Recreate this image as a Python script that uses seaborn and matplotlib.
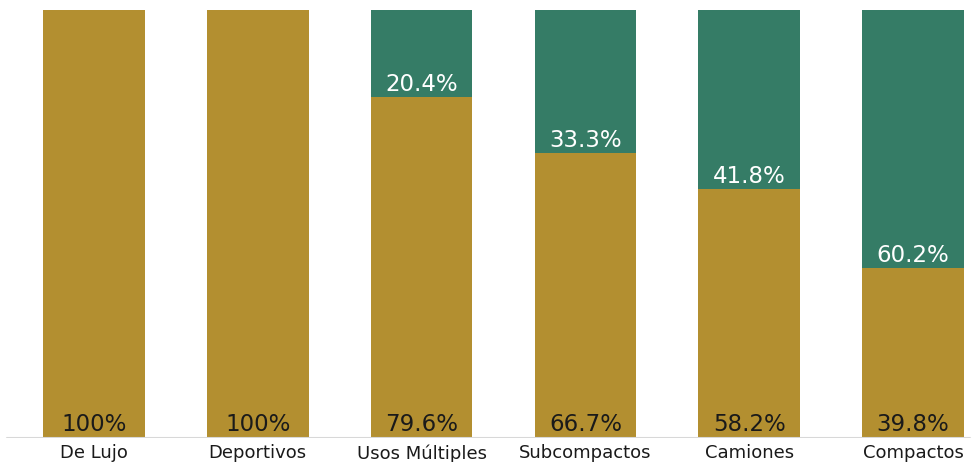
import pandas as pd
import matplotlib.pyplot as plt
import seaborn as sns

categorias = ["De Lujo", "Deportivos", "Usos Múltiples", "Subcompactos", "Camiones", "Compactos"]
oro = [100, 100, 79.6, 66.7, 58.2, 39.8]
verde = [0, 0, 20.4, 33.3, 41.8, 60.2]
etq_oro = ["100%", "100%", "79.6%", "66.7%", "58.2%", "39.8%"]
etq_verde = ["", "", "20.4%", "33.3%", "41.8%", "60.2%"]

sns.set_style("white")
plt.rcParams['font.family'] = ['DejaVu Sans']

df = pd.DataFrame({"cat": categorias, "oro": oro,
                   "total": [a + b for a, b in zip(oro, verde)]})

fig = plt.figure(figsize=(9.74, 4.62), dpi=100)
ax = fig.add_axes([0, 24 / 462, 1, 428 / 462])

sns.barplot(data=df, x="cat", y="total", color="#357c66", saturation=1,
            width=0.62, linewidth=0, ax=ax)
sns.barplot(data=df, x="cat", y="oro", color="#b38f30", saturation=1,
            width=0.62, linewidth=0, ax=ax)

for i in range(len(categorias)):
    ax.text(i, 1.6, etq_oro[i], ha="center", va="baseline", fontsize=16.5,
            color="#1a1a1a")
    if etq_verde[i]:
        ax.text(i, oro[i] + 1.4, etq_verde[i], ha="center", va="baseline",
                fontsize=16.5, color="white")

ax.set_xlim(-94 / 163.8, (974 - 94) / 163.8)
ax.set_ylim(0, 100)
ax.axhline(0, xmin=7 / 974, xmax=970 / 974, color="#d8d8d8", lw=1.5)
sns.despine(ax=ax, left=True, bottom=True)
ax.set_yticks([])
ax.set_xlabel("")
ax.set_ylabel("")
ax.tick_params(axis="x", length=0, pad=4.5, labelsize=13, labelcolor="#1a1a1a")

fig.savefig("out.png", dpi=100)
